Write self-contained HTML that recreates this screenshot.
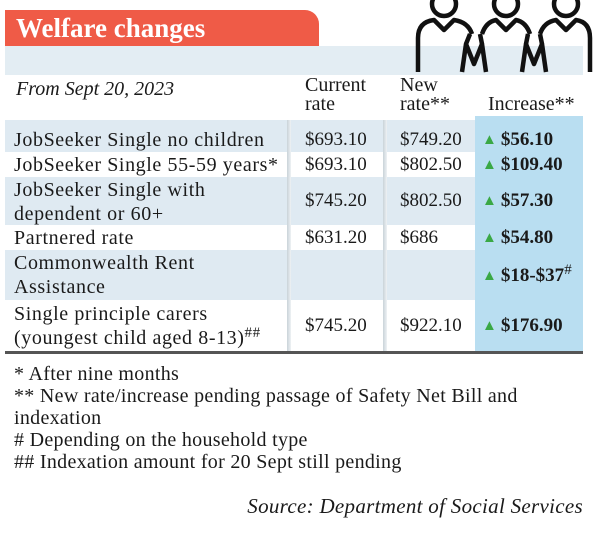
<!DOCTYPE html>
<html><head><meta charset="utf-8"><style>
body{margin:0;width:601px;height:536px;background:#fff;position:relative;overflow:hidden;font-family:"Liberation Serif",serif;color:#1a1a1a}
.a{position:absolute;white-space:nowrap}
.row{position:absolute;left:5px;width:578px}
.t{font-size:19px;line-height:24px}
.lb{font-size:20px;line-height:24px;letter-spacing:0.6px}
.inc{font-weight:bold;font-size:19px;line-height:24px}
.tri{color:#3aa845;font-size:15px;margin-right:4px;vertical-align:1px}
.vl{position:absolute;top:120px;height:232px;width:4px;background:linear-gradient(90deg,#c9d3d9,#eef2f4)}
.fn{font-size:20px;line-height:22px;left:14px;letter-spacing:0.3px}
sup{position:relative;top:-7px;vertical-align:baseline;line-height:0}
</style></head><body>
<div class="a" style="left:5px;top:10px;width:314px;height:36px;background:#ef5b47;border-top-right-radius:14px"></div>
<div class="a" style="left:16px;top:11px;font-size:27px;font-weight:bold;color:#fff;line-height:34px">Welfare changes</div>
<div class="a" style="left:5px;top:46px;width:578px;height:29px;background:#e3edf3"></div>
<svg class="a" style="left:410px;top:0" width="185" height="75" viewBox="0 0 185 75">
<g fill="none" stroke="#111" stroke-width="4.5" stroke-linejoin="round">
<circle cx="34" cy="4" r="12"/><circle cx="96" cy="4" r="12"/><circle cx="156" cy="4" r="12"/>
<path d="M8 72 V38 Q8 22 24 20 L34 30 L44 20 Q58 22 62 34"/>
<path d="M72 34 Q76 22 86 20 L96 30 L106 20 Q116 22 120 34"/>
<path d="M130 34 Q134 22 146 20 L156 30 L166 20 Q180 22 180 38 V72"/>
<path d="M52 72 L56 44 L64 64 L72 44 L76 72"/>
<path d="M112 72 L116 44 L124 64 L132 44 L136 72"/>
<path d="M56 44 L60 34 M72 44 L70 34 M116 44 L118 34 M132 44 L130 34"/>
</g></svg>
<div class="a" style="left:16px;top:78px;font-size:20px;font-style:italic">From Sept 20, 2023</div>
<div class="a t" style="left:305px;top:76px;line-height:19px;font-size:20px">Current<br>rate</div>
<div class="a t" style="left:400px;top:76px;line-height:19px;font-size:20px">New<br>rate**</div>
<div class="a t" style="left:488px;top:95px;line-height:19px;font-size:20px">Increase**</div>
<div class="row" style="top:120px;height:32px;background:#dfeaf2"></div>
<div class="row" style="top:177px;height:48px;background:#dfeaf2"></div>
<div class="row" style="top:250px;height:50px;background:#dfeaf2"></div>
<div class="a" style="left:475px;top:116px;width:108px;height:236px;background:#b9def1"></div>
<div class="vl" style="left:287px"></div>
<div class="vl" style="left:383px"></div>
<div class="a" style="left:5px;top:351px;width:578px;height:3px;background:#555"></div>
<div class="a lb" style="left:14px;top:128px">JobSeeker Single no children</div>
<div class="a t" style="left:305px;top:128px">$693.10</div>
<div class="a t" style="left:400px;top:128px">$749.20</div>
<div class="a inc" style="left:482px;top:128px"><span class="tri">▲</span>$56.10</div>
<div class="a lb" style="left:14px;top:153px">JobSeeker Single 55-59 years*</div>
<div class="a t" style="left:305px;top:153px">$693.10</div>
<div class="a t" style="left:400px;top:153px">$802.50</div>
<div class="a inc" style="left:482px;top:153px"><span class="tri">▲</span>$109.40</div>
<div class="a lb" style="left:14px;top:178px">JobSeeker Single with<br>dependent or 60+</div>
<div class="a t" style="left:305px;top:189px">$745.20</div>
<div class="a t" style="left:400px;top:189px">$802.50</div>
<div class="a inc" style="left:482px;top:189px"><span class="tri">▲</span>$57.30</div>
<div class="a lb" style="left:14px;top:226px">Partnered rate</div>
<div class="a t" style="left:305px;top:226px">$631.20</div>
<div class="a t" style="left:400px;top:226px">$686</div>
<div class="a inc" style="left:482px;top:226px"><span class="tri">▲</span>$54.80</div>
<div class="a lb" style="left:14px;top:251px">Commonwealth Rent<br>Assistance</div>
<div class="a inc" style="left:482px;top:264px"><span class="tri">▲</span>$18-$37<sup style="font-size:15px;font-weight:normal">#</sup></div>
<div class="a lb" style="left:14px;top:302px">Single principle carers<br>(youngest child aged 8-13)<sup style="font-size:15px">##</sup></div>
<div class="a t" style="left:305px;top:314px">$745.20</div>
<div class="a t" style="left:400px;top:314px">$922.10</div>
<div class="a inc" style="left:482px;top:314px"><span class="tri">▲</span>$176.90</div>
<div class="a fn" style="top:363px">* After nine months<br>** New rate/increase pending passage of Safety Net Bill and<br>indexation<br># Depending on the household type<br>## Indexation amount for 20 Sept still pending</div>
<div class="a" style="right:18px;top:494px;font-size:21px;font-style:italic;letter-spacing:0.3px">Source: Department of Social Services</div>
</body></html>
